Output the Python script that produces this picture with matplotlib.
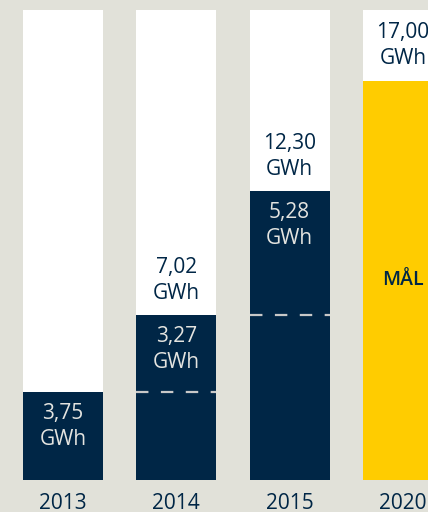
import matplotlib
matplotlib.use("Agg")
import matplotlib.pyplot as plt

# 数据
years = ["2013", "2014", "2015", "2020"]
values = [3.75, 7.02, 12.30, 17.00]
increments = [3.75, 3.27, 5.28, None]   # 当年新增
prev_values = [None, 3.75, 7.02, None]  # 虚线: 上一年水平
goal_label = "MÅL"
y_max = 20.0

BG = "#e1e1d9"
NAVY = "#002646"
YELLOW = "#ffcc00"
LIGHT = "#e4e4e0"

plt.rcParams["font.family"] = ["Open Sans", "DejaVu Sans"]

fig = plt.figure(figsize=(4.28, 5.12), dpi=100, facecolor=BG)
ax = fig.add_axes([0, 32 / 512, 1, 470 / 512])
ax.set_facecolor(BG)

x = list(range(len(years)))
w = 0.706
ax.bar(x, [y_max] * len(x), width=w, color="white", zorder=1)
colors = [NAVY, NAVY, NAVY, YELLOW]
ax.bar(x, values, width=w, color=colors, zorder=2)

fs = 15
off = 1.48
for i, (yr, v) in enumerate(zip(years, values)):
    val = f"{v:.2f}".replace(".", ",")
    # 白色区域内的总量标签
    if i > 0:
        ax.text(i, v + off, f"{val}\nGWh", ha="center", va="center",
                fontsize=fs, color=NAVY, linespacing=1.3, zorder=4)
    inc = increments[i]
    if inc is not None:
        s = f"{inc:.2f}".replace(".", ",")
        ax.text(i, v - off, f"{s}\nGWh", ha="center", va="center",
                fontsize=fs, color=LIGHT, linespacing=1.3, zorder=4)
    pv = prev_values[i]
    if pv is not None:
        ax.plot([i - w / 2, i + w / 2], [pv, pv], color="#c8c8c8", lw=1.6,
                dashes=(5.6, 5.6), zorder=3)
    ax.text(i, -0.98, yr, ha="center", va="center", fontsize=fs, color=NAVY,
            zorder=4)

ax.text(3, values[3] / 2, goal_label, ha="center", va="center", fontsize=14,
        fontweight="semibold", color=NAVY, zorder=4)

ax.set_xlim(-63 / 113.33, (428 - 63) / 113.33)
ax.set_ylim(0, y_max)
ax.axis("off")

fig.savefig("out.png", dpi=100, facecolor=BG)
